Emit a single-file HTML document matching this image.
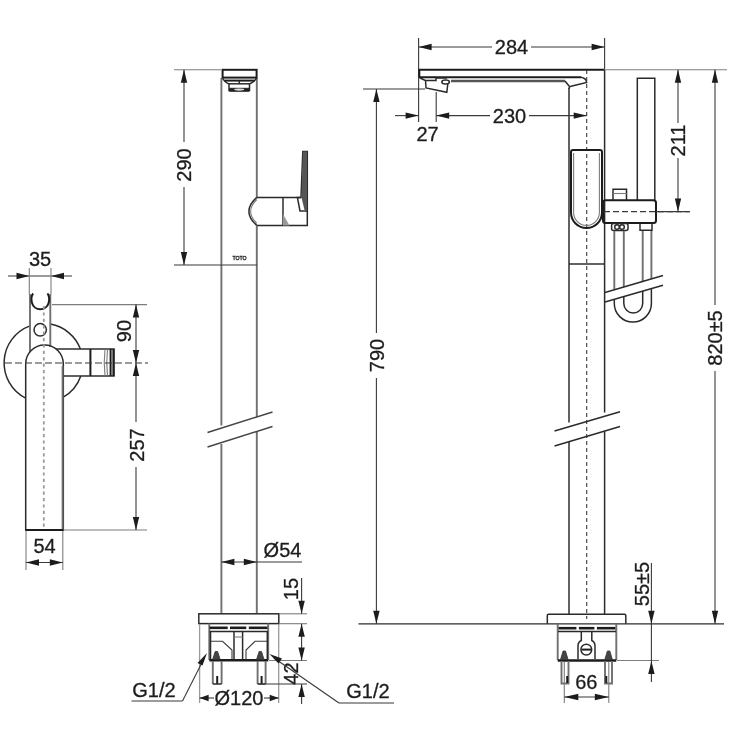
<!DOCTYPE html>
<html><head><meta charset="utf-8"><title>Dimension drawing</title>
<style>
html,body{margin:0;padding:0;background:#fff;}
body{width:740px;height:740px;overflow:hidden;}
svg{display:block;}
svg text{font-family:"Liberation Sans",sans-serif;font-size:20px;fill:#1c1c1c;stroke:#1c1c1c;stroke-width:0.3;}
.o{stroke:#2b2b2b;stroke-width:1.5;fill:none;}
.t{stroke:#3a3a3a;stroke-width:1.1;fill:none;}
.e{stroke:#7d7d7d;stroke-width:1.1;fill:none;}
.g{stroke:#9a9a9a;stroke-width:1.3;fill:none;}
.g2{stroke:#6f6f6f;stroke-width:1.9;fill:none;}
.bk{stroke:#444;stroke-width:1.4;fill:none;}
.fl{stroke:#2b2b2b;stroke-width:1.3;fill:none;}
.gl{stroke:#9a9a9a;stroke-width:1.8;fill:none;}
.g25{stroke:#555;stroke-width:2.6;fill:none;}
.k2{stroke:#1e1e1e;stroke-width:2;fill:none;}
.k25{stroke:#1e1e1e;stroke-width:2.6;fill:none;}
.kf{fill:#222;stroke:#222;stroke-width:1;}
.nf{fill:#444;stroke:#333;stroke-width:0.8;}
.gf{fill:#999;stroke:none;}
.df{fill:#555;stroke:none;}
.w{stroke:#fff;stroke-width:1.2;fill:none;}
.a{fill:#1c1c1c;stroke:none;}
</style></head>
<body>
<svg width="740" height="740" viewBox="0 0 740 740">
<rect x="0" y="0" width="740" height="740" fill="#ffffff"/>
<g filter="url(#soft)">
<line x1="8" y1="276" x2="72" y2="276" class="t" />
<polygon points="29.5,276 16.5,272.8 16.5,279.2" class="a"/>
<polygon points="51,276 64,272.8 64,279.2" class="a"/>
<line x1="29.3" y1="268" x2="29.3" y2="294" class="e" />
<line x1="51" y1="268" x2="51" y2="294" class="e" />
<text x="40" y="265.5" text-anchor="middle">35</text>
<path d="M25.7,398.2 A39.5,39.5 0 0 1 30,325.9" class="o" />
<path d="M50.3,324.1 A39.5,39.5 0 0 1 80.4,349" class="o" />
<path d="M80.8,376 A39.5,39.5 0 0 1 63.3,397.2" class="o" />
<line x1="30" y1="294" x2="30" y2="352" class="g2" />
<line x1="50.3" y1="294" x2="50.3" y2="347" class="g2" />
<path d="M33.2,293.5 C31.2,295.5 31,300 32,303 A8.6,8.6 0 0 0 48.6,303 C49.6,300 49.4,295.5 47.4,293.5" class="k2" />
<circle cx="40.2" cy="329.8" r="6.2" class="o"/>
<path d="M56,349 H114 V376 H64" class="o" />
<line x1="90.4" y1="349" x2="90.4" y2="376" class="k2" />
<line x1="110.6" y1="349" x2="110.6" y2="376" class="k2" />
<line x1="113.4" y1="349" x2="113.4" y2="376" class="k2" />
<path d="M105,349.5 Q103.5,362.5 105,375.5" class="e" />
<path d="M107.5,349.5 Q106,362.5 107.5,375.5" class="e" />
<path d="M25.7,530 V363.8 A18.8,18.8 0 0 1 63.3,363.8 V530 Z" class="o" />
<line x1="62.6" y1="366" x2="62.6" y2="530" class="g2" />
<line x1="25.7" y1="530" x2="63.3" y2="530" class="k2" />
<line x1="5" y1="363" x2="148" y2="363" class="t" stroke-dasharray="7 3"/>
<line x1="43.8" y1="306" x2="43.8" y2="530" class="gl" stroke-dasharray="3.2 3.2"/>
<line x1="52" y1="304.6" x2="147" y2="304.6" class="e" />
<line x1="64" y1="530" x2="147" y2="530" class="e" />
<line x1="136" y1="304.6" x2="136" y2="422" class="t" />
<line x1="136" y1="467" x2="136" y2="530" class="t" />
<polygon points="136,304.6 132.8,317.6 139.2,317.6" class="a"/>
<polygon points="136,363 132.8,350 139.2,350" class="a"/>
<polygon points="136,363 132.8,376 139.2,376" class="a"/>
<polygon points="136,530 132.8,517 139.2,517" class="a"/>
<text transform="translate(130.5,331) rotate(-90)" text-anchor="middle">90</text>
<text transform="translate(144,445) rotate(-90)" text-anchor="middle">257</text>
<line x1="26" y1="531" x2="26" y2="570" class="e" />
<line x1="62.8" y1="531" x2="62.8" y2="570" class="e" />
<line x1="26" y1="562.5" x2="62.8" y2="562.5" class="t" />
<polygon points="26,562.5 39,559.3 39,565.7" class="a"/>
<polygon points="62.8,562.5 49.8,559.3 49.8,565.7" class="a"/>
<text x="44.5" y="553" text-anchor="middle">54</text>
<line x1="221.4" y1="78" x2="221.4" y2="425.5" class="g2" />
<line x1="221.4" y1="444" x2="221.4" y2="613" class="g2" />
<line x1="256.8" y1="78" x2="256.8" y2="197" class="g2" />
<line x1="256.8" y1="226" x2="256.8" y2="417" class="g2" />
<line x1="256.8" y1="431" x2="256.8" y2="613" class="g2" />
<rect x="222.6" y="69.8" width="34" height="7.8" rx="0" class="k2"/>
<path d="M222.5,78 Q224,81.5 229,84 V90.5 H249.5 V84 Q255,81.5 256.5,78" class="o" />
<line x1="224.5" y1="80.6" x2="254.5" y2="80.6" class="k2" />
<line x1="229" y1="83.8" x2="249.5" y2="83.8" class="o" />
<line x1="239.3" y1="80.6" x2="239.3" y2="84" class="o" />
<path d="M229.5,88.3 H249 V91.2 H229.5 Z" class="kf" />
<ellipse cx="239.2" cy="89.6" rx="5" ry="1.1" fill="#ddd"/>
<line x1="174" y1="69.8" x2="221" y2="69.8" class="e" />
<line x1="174" y1="265" x2="257" y2="265" class="t" />
<line x1="184" y1="69.8" x2="184" y2="142" class="t" />
<line x1="184" y1="187" x2="184" y2="265" class="t" />
<polygon points="184,69.8 180.8,82.8 187.2,82.8" class="a"/>
<polygon points="184,265 180.8,252 187.2,252" class="a"/>
<text transform="translate(191,165) rotate(-90)" text-anchor="middle">290</text>
<text x="239.5" y="259.5" text-anchor="middle" style="font-size:5.2px">TOTO</text>
<path d="M256.8,197.4 H301 M307.3,211 V225.4 H256.8" class="o" />
<path d="M256.8,197.4 Q241,211.4 256.8,225.4" class="o" />
<path d="M256.8,199.5 Q244.5,211.4 256.8,223.3" class="e" />
<line x1="283" y1="197.4" x2="283" y2="225.4" class="o" />
<path d="M283,214 L289.5,225.4 H283 Z" class="gf" />
<path d="M302.8,151.5 H307.3 V211 H300 L297.4,197.4 H301 Z" class="o" />
<path d="M302.8,151.5 H307 V210 H304.5 L301.4,197 Z" class="df" />
<line x1="207.5" y1="432.5" x2="272.5" y2="412" class="bk" />
<line x1="207.5" y1="447" x2="272.5" y2="426.5" class="bk" />
<line x1="221.4" y1="562" x2="302" y2="562" class="t" />
<polygon points="221.4,562 234.4,558.8 234.4,565.2" class="a"/>
<polygon points="256.8,562 243.8,558.8 243.8,565.2" class="a"/>
<text x="282.5" y="557" text-anchor="middle">Ø54</text>
<rect x="198.8" y="613.8" width="80" height="9.8" rx="0" class="o"/>
<line x1="199.6" y1="624" x2="199.6" y2="703" class="g" />
<line x1="278.7" y1="624" x2="278.7" y2="703" class="g" />
<path d="M209.3,623.6 V660 M268.2,623.6 V660" class="g2" />
<line x1="209.3" y1="660.3" x2="268.2" y2="660.3" class="k25" />
<line x1="209.5" y1="627.8" x2="227.7" y2="627.8" class="k25" />
<line x1="230" y1="627.8" x2="246.3" y2="627.8" class="k25" />
<line x1="248.8" y1="627.8" x2="267.5" y2="627.8" class="k25" />
<line x1="209.5" y1="631.6" x2="268" y2="631.6" class="o" />
<path d="M210.5,632 V659.5 M234,632 V659.5 M242.6,632 V659.5 M267.3,632 V659.5" class="o" />
<line x1="234" y1="637" x2="242.6" y2="637" class="e" />
<path d="M211,641.3 H222.5 L232,650 V659" class="t" />
<path d="M267,641.3 H255 L246,650 V659" class="t" />
<path d="M212.6,659.6 L215.20000000000002,651.5 H217.6 L220.20000000000002,659.6 Z" class="nf" />
<path d="M256.5,659.6 L259.1,651.5 H261.5 L264.1,659.6 Z" class="nf" />
<path d="M212.8,661 V684 M221.6,661 V684" class="g2" />
<line x1="217.2" y1="676" x2="217.2" y2="684" class="k2" />
<line x1="212.8" y1="684" x2="221.6" y2="684" class="o" />
<path d="M257.6,661 V684 M265.6,661 V684" class="g2" />
<line x1="261.6" y1="676" x2="261.6" y2="684" class="k2" />
<line x1="257.6" y1="684" x2="265.6" y2="684" class="o" />
<line x1="279" y1="613.8" x2="307" y2="613.8" class="e" />
<line x1="279" y1="623.7" x2="307" y2="623.7" class="e" />
<line x1="269" y1="660.5" x2="307" y2="660.5" class="e" />
<line x1="258" y1="684" x2="307" y2="684" class="t" />
<line x1="301.6" y1="578" x2="301.6" y2="613.8" class="t" />
<line x1="301.6" y1="623.7" x2="301.6" y2="660.5" class="t" />
<line x1="301.6" y1="684" x2="301.6" y2="704" class="t" />
<polygon points="301.6,613.8 298.40000000000003,600.8 304.8,600.8" class="a"/>
<polygon points="301.6,623.7 298.40000000000003,636.7 304.8,636.7" class="a"/>
<polygon points="301.6,660.5 298.40000000000003,647.5 304.8,647.5" class="a"/>
<polygon points="301.6,684 298.40000000000003,697 304.8,697" class="a"/>
<text transform="translate(298,589) rotate(-90)" text-anchor="middle">15</text>
<text transform="translate(297.5,673.5) rotate(-90)" text-anchor="middle">42</text>
<line x1="199.6" y1="698" x2="214" y2="698" class="t" />
<line x1="264" y1="698" x2="278.7" y2="698" class="t" />
<polygon points="199.6,698 208.6,694.8 208.6,701.2" class="a"/>
<polygon points="278.7,698 269.7,694.8 269.7,701.2" class="a"/>
<text x="239" y="705" text-anchor="middle">Ø120</text>
<text x="154" y="697" text-anchor="middle">G1/2</text>
<line x1="131.5" y1="701" x2="182.5" y2="701" class="t" />
<line x1="182.5" y1="701" x2="204" y2="658.5" class="t" />
<polygon points="207,653 197.5,663 202.5,665.5" class="a"/>
<text x="368" y="697.5" text-anchor="middle">G1/2</text>
<line x1="339" y1="703" x2="394" y2="703" class="t" />
<line x1="339" y1="703" x2="274" y2="658" class="t" />
<polygon points="269.5,654 282,658.5 278.5,663.5" class="a"/>
<line x1="418.6" y1="38" x2="418.6" y2="92" class="t" />
<line x1="604.6" y1="38" x2="604.6" y2="69" class="t" />
<line x1="418.6" y1="47" x2="492" y2="47" class="t" />
<line x1="531" y1="47" x2="604.6" y2="47" class="t" />
<polygon points="418.6,47 431.6,43.8 431.6,50.2" class="a"/>
<polygon points="604.6,47 591.6,43.8 591.6,50.2" class="a"/>
<text x="511.5" y="54" text-anchor="middle">284</text>
<line x1="418.6" y1="69.8" x2="604.6" y2="69.8" class="k2" />
<line x1="419" y1="77.3" x2="581" y2="77.3" class="k2" />
<line x1="419.3" y1="69.8" x2="419.3" y2="77.3" class="k2" />
<line x1="451" y1="81" x2="565" y2="81" class="g25" />
<path d="M581,77.3 Q586,78 586.7,82.5 L571,86.2 Q569,86.5 569,89" class="o" />
<path d="M565,81 L569.5,86.5" class="o" />
<path d="M420,78 L425.5,80.5 L426,88 L446.8,92.3 L447.8,84" class="o" />
<path d="M426,80.5 H436 V78" class="o" />
<ellipse cx="445.6" cy="82" rx="3.8" ry="2" class="o"/>
<line x1="436" y1="78" x2="447" y2="78" class="o" />
<line x1="569" y1="88" x2="569" y2="422.6" class="o" />
<line x1="569" y1="441.8" x2="569" y2="614" class="o" />
<line x1="604.6" y1="69.8" x2="604.6" y2="412.4" class="o" />
<line x1="604.6" y1="431.2" x2="604.6" y2="614" class="o" />
<line x1="586.7" y1="70" x2="586.7" y2="619" class="t" stroke-dasharray="4 3"/>
<line x1="569" y1="264" x2="604.6" y2="264" class="o" />
<line x1="554.5" y1="431" x2="620" y2="411.7" class="o" />
<line x1="554.5" y1="446" x2="620" y2="426.5" class="o" />
<line x1="436.2" y1="92" x2="436.2" y2="122" class="t" />
<line x1="418.6" y1="92" x2="418.6" y2="122" class="t" />
<line x1="395" y1="115.6" x2="418.6" y2="115.6" class="t" />
<polygon points="418.6,115.6 405.6,112.39999999999999 405.6,118.8" class="a"/>
<line x1="436.2" y1="115.6" x2="490" y2="115.6" class="t" />
<line x1="529" y1="115.6" x2="586.7" y2="115.6" class="t" />
<polygon points="436.2,115.6 449.2,112.39999999999999 449.2,118.8" class="a"/>
<polygon points="586.7,115.6 573.7,112.39999999999999 573.7,118.8" class="a"/>
<text x="509.5" y="122.5" text-anchor="middle">230</text>
<text x="427.5" y="141" text-anchor="middle">27</text>
<line x1="363" y1="89" x2="425" y2="89" class="t" />
<line x1="358.5" y1="623.8" x2="724" y2="623.8" class="fl" />
<line x1="376.4" y1="89" x2="376.4" y2="333" class="t" />
<line x1="376.4" y1="378" x2="376.4" y2="623.8" class="t" />
<polygon points="376.4,89 373.2,102 379.59999999999997,102" class="a"/>
<polygon points="376.4,623.8 373.2,610.8 379.59999999999997,610.8" class="a"/>
<text transform="translate(383.5,355.5) rotate(-90)" text-anchor="middle">790</text>
<path d="M571,152 Q571,150 573,150 H600 Q602,150 602,152 V212.5 A15.5,15.5 0 0 1 571,212.5 Z" class="k2" />
<path d="M573.6,153 V212.5 A12.9,12.9 0 0 0 599.4,212.5 V153" class="e" />
<path d="M637.3,200 V78.2 H654.8 V200" class="o" />
<rect x="603" y="200.3" width="53" height="22.7" rx="2.5" class="k2"/>
<line x1="604" y1="211.6" x2="690" y2="211.6" class="t" stroke-dasharray="6 3"/>
<line x1="656" y1="211.6" x2="689" y2="211.6" class="t" />
<path d="M613,200 V189.3 H626.5 V200" class="o" />
<line x1="613" y1="193.5" x2="626.5" y2="193.5" class="e" />
<rect x="611.6" y="223.5" width="16.4" height="7" rx="2" class="o"/>
<circle cx="617" cy="227" r="2.3" class="o"/>
<circle cx="622" cy="227" r="2.3" class="o"/>
<path d="M640,223.5 V230.3 H652 V223.5" class="o" />
<line x1="614.3" y1="231" x2="614.3" y2="289.8" class="g2" />
<line x1="623.8" y1="231" x2="623.8" y2="287" class="g2" />
<line x1="642.7" y1="231" x2="642.7" y2="281.5" class="g2" />
<line x1="651.4" y1="231" x2="651.4" y2="278.9" class="g2" />
<path d="M614.3,299.3 V303.5 A18.55,18.55 0 0 0 651.4,303.5 V288.6" class="o" />
<path d="M623.8,296.6 V303.5 A9.45,9.45 0 0 0 642.7,303.5 V291.1" class="o" />
<line x1="605" y1="292.5" x2="663" y2="275.5" class="o" />
<line x1="605" y1="302" x2="663" y2="285.3" class="o" />
<line x1="605" y1="69.8" x2="727" y2="69.8" class="e" />
<line x1="678" y1="69.8" x2="678" y2="123" class="t" />
<line x1="678" y1="158" x2="678" y2="211.6" class="t" />
<polygon points="678,69.8 674.8,82.8 681.2,82.8" class="a"/>
<polygon points="678,211.6 674.8,198.6 681.2,198.6" class="a"/>
<text transform="translate(685,140.5) rotate(-90)" text-anchor="middle">211</text>
<line x1="715" y1="69.8" x2="715" y2="305" class="t" />
<line x1="715" y1="371" x2="715" y2="623.8" class="t" />
<polygon points="715,69.8 711.8,82.8 718.2,82.8" class="a"/>
<polygon points="715,623.8 711.8,610.8 718.2,610.8" class="a"/>
<text transform="translate(722,338) rotate(-90)" text-anchor="middle">820±5</text>
<path d="M547.3,623.8 V615.5 Q547.3,614.2 548.6,614.2 H624.5 Q625.8,614.2 625.8,615.5 V623.8" class="o" />
<path d="M557.7,624 V660 M616.3,624 V660" class="g2" />
<line x1="557.7" y1="660.5" x2="616.3" y2="660.5" class="k25" />
<line x1="558.6" y1="628.2" x2="576.4" y2="628.2" class="k25" />
<line x1="578.9" y1="628.2" x2="594.4" y2="628.2" class="k25" />
<line x1="596.9" y1="628.2" x2="615.4" y2="628.2" class="k25" />
<line x1="558" y1="631.4" x2="616" y2="631.4" class="o" />
<path d="M581.3,631.5 V640.5 Q578,642 578,646 V659 M591.8,631.5 V640.5 Q595,642 595,646 V659" class="o" />
<circle cx="586.3" cy="649.6" r="5.4" class="o"/>
<line x1="581.5" y1="649.6" x2="591" y2="649.6" class="k2" />
<path d="M560.5,659.6 L563.0999999999999,651 H565.5 L568.0999999999999,659.6 Z" class="nf" />
<path d="M604.8000000000001,659.6 L607.4,651 H609.8000000000001 L612.4,659.6 Z" class="nf" />
<path d="M561.5,661 V683.5 H568.5 V661" class="g2" />
<line x1="567.2" y1="676" x2="567.2" y2="683" class="k2" />
<path d="M605,661 V683.5 H612 V661" class="g2" />
<line x1="606.3" y1="676" x2="606.3" y2="683" class="k2" />
<line x1="564.3" y1="662" x2="564.3" y2="703" class="e" />
<line x1="608.8" y1="662" x2="608.8" y2="703" class="e" />
<line x1="564.3" y1="697" x2="608.8" y2="697" class="t" />
<polygon points="564.3,697 578.3,693.8 578.3,700.2" class="a"/>
<polygon points="608.8,697 594.8,693.8 594.8,700.2" class="a"/>
<text x="586.3" y="689" text-anchor="middle">66</text>
<line x1="617" y1="660.5" x2="659" y2="660.5" class="e" />
<line x1="651.4" y1="563" x2="651.4" y2="682" class="t" />
<polygon points="651.4,623.8 648.1999999999999,610.8 654.6,610.8" class="a"/>
<polygon points="651.4,661 648.1999999999999,674 654.6,674" class="a"/>
<text transform="translate(648.5,584) rotate(-90)" text-anchor="middle">55±5</text>
</g>
<defs><filter id="soft" x="0" y="0" width="740" height="740" filterUnits="userSpaceOnUse"><feGaussianBlur stdDeviation="0.45"/></filter></defs>
</svg>
</body></html>
